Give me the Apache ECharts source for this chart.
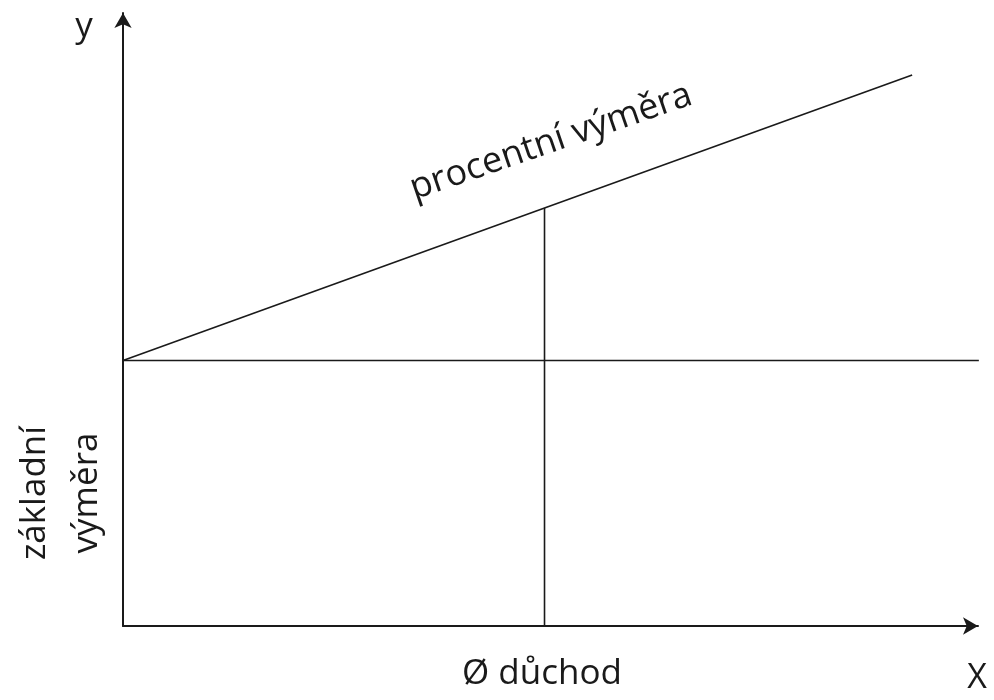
<!DOCTYPE html>
<html>
<head>
<meta charset="utf-8">
<script src="https://cdn.jsdelivr.net/npm/echarts@6/dist/echarts.min.js"></script>
<style>
  html, body { margin: 0; padding: 0; background: #fff; }
  #chart { width: 994px; height: 700px; }
</style>
</head>
<body>
<div id="chart"></div>
<script>
// schematic values, in axis units (0..100)
const axisMax = [100, 100];
const baseLine = [[0, 43.3], [100.1, 43.3]];      // základní výměra
const percentLine = [[0, 43.3], [92.3, 89.9]];    // procentní výměra
const averageLine = [[49.3, 0], [49.3, 68.2]];    // Ø důchod

const font = "'Open Sans', sans-serif";
const ink = "#1a1a1a";

const chart = echarts.init(document.getElementById("chart"));

function plainLine(name, data, width) {
  return {
    name: name,
    type: "line",
    data: data,
    symbol: "none",
    clip: false,
    silent: true,
    animation: false,
    lineStyle: { color: ink, width: width },
  };
}

function axisStyle() {
  return {
    axisLine: {
      show: true,
      onZero: false,
      symbol: ["none", "arrow"],
      symbolSize: [13, 15],
      lineStyle: { color: ink, width: 2 },
    },
    axisTick: { show: false },
    axisLabel: { show: false },
    splitLine: { show: false },
  };
}

chart.setOption({
  backgroundColor: "#fff",
  grid: {
    left: 123,
    right: 16,
    top: 13,
    bottom: 74,
  },
  xAxis: Object.assign({ type: "value", min: 0, max: axisMax[0] }, axisStyle()),
  yAxis: Object.assign({ type: "value", min: 0, max: axisMax[1] }, axisStyle()),
  series: [
    plainLine("základní výměra", baseLine, 1.6),
    plainLine("procentní výměra", percentLine, 1.6),
    plainLine("Ø důchod", averageLine, 1.6),
  ],
  graphic: [
    {
      type: "text", x: 84, y: 27,
      style: { text: "y", font: "35px " + font, fill: ink, align: "center", verticalAlign: "middle" },
    },
    {
      type: "text", x: 977, y: 678,
      style: { text: "X", font: "34px " + font, fill: ink, align: "center", verticalAlign: "middle" },
    },
    {
      type: "text", x: 542, y: 674,
      style: { text: "Ø důchod", font: "35px " + font, fill: ink, align: "center", verticalAlign: "middle" },
    },
    {
      type: "text", x: 61, y: 493, rotation: Math.PI / 2,
      style: {
        text: "základní\nvýměra", font: "35px " + font, lineHeight: 52,
        fill: ink, align: "center", verticalAlign: "middle",
      },
    },
    {
      type: "text", x: 551, y: 142, rotation: 0.33,
      style: { text: "procentní výměra", font: "36px " + font, fill: ink, align: "center", verticalAlign: "middle" },
    },
  ],
});
</script>
</body>
</html>
